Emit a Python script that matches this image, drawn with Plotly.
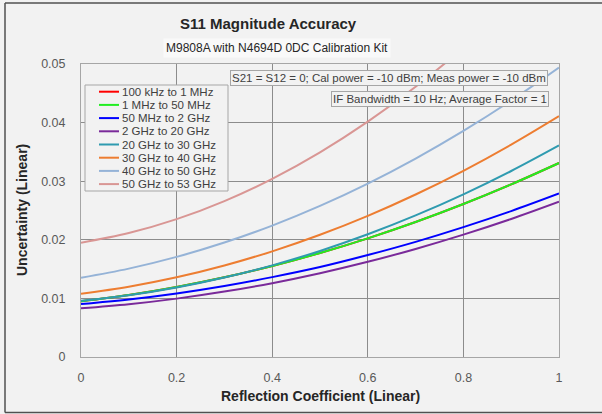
import plotly.graph_objects as go

# ---- data ----
reflection = [0.0, 0.1, 0.2, 0.3, 0.4, 0.5, 0.6, 0.7, 0.8, 0.9, 1.0]

series_names = [
    "100 kHz to 1 MHz",
    "1 MHz to 50 MHz",
    "50 MHz to 2 GHz",
    "2 GHz to 20 GHz",
    "20 GHz to 30 GHz",
    "30 GHz to 40 GHz",
    "40 GHz to 50 GHz",
    "50 GHz to 53 GHz",
]
series_colors = ["#ff0000", "#22ee22", "#0000ff", "#7a2a9a",
                 "#2f9bb0", "#ed7d31", "#95b3d7", "#d99694"]

u_100k_1M = [0.0095, 0.01058, 0.01195, 0.0136, 0.01553, 0.01775, 0.02025, 0.02304, 0.02611, 0.02946, 0.0331]
u_1M_50M = [0.0095, 0.01058, 0.01195, 0.0136, 0.01553, 0.01775, 0.02025, 0.02304, 0.02611, 0.02946, 0.0331]
u_50M_2G = [0.00904, 0.00982, 0.01084, 0.01211, 0.01363, 0.01535, 0.0174, 0.01965, 0.02216, 0.0249, 0.0279]
u_2G_20G = [0.0083, 0.009, 0.00996, 0.01116, 0.0126, 0.0143, 0.01624, 0.01844, 0.02088, 0.02356, 0.0265]
u_20G_30G = [0.0096, 0.01054, 0.01186, 0.01356, 0.01564, 0.0181, 0.02094, 0.02416, 0.02776, 0.03174, 0.0361]
u_30G_40G = [0.0108, 0.0120, 0.0136, 0.01561, 0.01803, 0.02086, 0.02409, 0.02773, 0.03178, 0.03624, 0.0411]
u_40G_50G = [0.01353, 0.01508, 0.01708, 0.01953, 0.02243, 0.02579, 0.0296, 0.03387, 0.03859, 0.04376, 0.04938]
u_50G_53G = [0.0195, 0.02115, 0.02352, 0.02661, 0.03041, 0.03493, 0.04016, 0.04611, 0.05277, 0.06015, 0.06825]

series_values = [u_100k_1M, u_1M_50M, u_50M_2G, u_2G_20G,
                 u_20G_30G, u_30G_40G, u_40G_50G, u_50G_53G]

x_ticks = [0, 0.2, 0.4, 0.6, 0.8, 1]
x_tick_labels = ["0", "0.2", "0.4", "0.6", "0.8", "1"]
y_ticks = [0, 0.01, 0.02, 0.03, 0.04, 0.05]
y_tick_labels = ["0", "0.01", "0.02", "0.03", "0.04", "0.05"]

title_text = "S11 Magnitude Accuracy"
subtitle_text = "M9808A with N4694D 0DC Calibration Kit"
note1 = "S21 = S12 = 0; Cal power = -10 dBm; Meas power = -10 dBm"
note2 = "IF Bandwidth = 10 Hz; Average Factor = 1"

FONT = "Liberation Sans, Arial, sans-serif"
BG = "#f2f2f2"

fig = go.Figure()
for name, vals, col in zip(series_names, series_values, series_colors):
    fig.add_trace(go.Scatter(x=reflection, y=vals, name=name, mode="lines",
                             line=dict(color=col, width=2, shape="spline"),
                             showlegend=False, cliponaxis=True))

# Plot geometry (pixels)
L, R, T, B = 81, 43, 64, 57
W, H = 602, 414
pw, ph = W - L - R, H - T - B

def px(x):
    return (x - L) / pw

def py(y):
    return (H - B - y) / ph

shapes = []
annotations = []

# outer frame: left, top and bottom edges only
frame_line = dict(color="#505050", width=1.5)
for (x0, y0, x1, y1) in [(5, 3, 5, 412.5), (5, 3, 602, 3), (5, 412.5, 602, 412.5)]:
    shapes.append(dict(type="line", xref="paper", yref="paper",
                       x0=px(x0), x1=px(x1), y0=py(y0), y1=py(y1),
                       line=frame_line, layer="below"))

# legend box (manual)
shapes.append(dict(type="rect", xref="paper", yref="paper",
                   x0=px(85), x1=px(228), y0=py(191), y1=py(85),
                   line=dict(color="#a6a6a6", width=1), fillcolor=BG, layer="above"))
row0, step = 91.7, 13.2
for i, (name, col) in enumerate(zip(series_names, series_colors)):
    yy = py(row0 + step * i)
    shapes.append(dict(type="line", xref="paper", yref="paper",
                       x0=px(99), x1=px(119), y0=yy, y1=yy,
                       line=dict(color=col, width=2), layer="above"))
    annotations.append(dict(text=name, xref="paper", yref="paper", x=px(120), y=yy,
                            xanchor="left", yanchor="middle", showarrow=False,
                            font=dict(family=FONT, size=11.5, color="#404040")))

# titles
annotations.append(dict(text="<b>" + title_text + "</b>", xref="paper", yref="paper",
                        x=px(268), y=py(24), xanchor="center", yanchor="middle",
                        showarrow=False, font=dict(family=FONT, size=15, color="#262626")))
annotations.append(dict(text=subtitle_text, xref="paper", yref="paper",
                        x=px(277), y=py(48), xanchor="center", yanchor="middle",
                        showarrow=False, bgcolor="#f9f9f9", borderpad=2,
                        font=dict(family=FONT, size=12, color="#262626")))
# notes
annotations.append(dict(text=note1, xref="paper", yref="paper",
                        x=px(548), y=py(78.5), xanchor="right", yanchor="middle",
                        showarrow=False, bgcolor=BG, bordercolor="#a6a6a6",
                        borderwidth=1, borderpad=1,
                        font=dict(family=FONT, size=11.5, color="#404040")))
annotations.append(dict(text=note2, xref="paper", yref="paper",
                        x=px(549), y=py(99), xanchor="right", yanchor="middle",
                        showarrow=False, bgcolor=BG, bordercolor="#a6a6a6",
                        borderwidth=1, borderpad=1,
                        font=dict(family=FONT, size=11.5, color="#404040")))
# axis titles
annotations.append(dict(text="<b>Reflection Coefficient (Linear)</b>", xref="paper", yref="paper",
                        x=px(320), y=py(396), xanchor="center", yanchor="middle",
                        showarrow=False, font=dict(family=FONT, size=14, color="#262626")))
annotations.append(dict(text="<b>Uncertainty (Linear)</b>", xref="paper", yref="paper",
                        x=px(22), y=py(210), xanchor="center", yanchor="middle",
                        textangle=-90, showarrow=False,
                        font=dict(family=FONT, size=14, color="#262626")))

fig.update_layout(
    width=W, height=H, autosize=False,
    margin=dict(l=L, r=R, t=T, b=B, pad=0, autoexpand=False),
    paper_bgcolor=BG, plot_bgcolor=BG,
    font=dict(family=FONT, size=12, color="#595959"),
    shapes=shapes, annotations=annotations, showlegend=False,
)
fig.update_xaxes(range=[0, 1], tickvals=x_ticks, ticktext=x_tick_labels,
                 showgrid=True, gridcolor="#8c8c8c", gridwidth=1, automargin=False,
                 showline=True, linecolor="#a6a6a6", linewidth=1, mirror=True,
                 zeroline=False, ticks="", ticklabelstandoff=9,
                 tickfont=dict(family=FONT, size=12.5, color="#595959"))
fig.update_yaxes(range=[0, 0.05], tickvals=y_ticks, ticktext=y_tick_labels,
                 showgrid=True, gridcolor="#8c8c8c", gridwidth=1, automargin=False,
                 showline=True, linecolor="#a6a6a6", linewidth=1, mirror=True,
                 zeroline=False, ticks="", ticklabelstandoff=12,
                 tickfont=dict(family=FONT, size=12.5, color="#595959"))

fig.write_html("out.html", config={"displayModeBar": False},
               post_script="document.body.style.margin='0';document.body.style.background='#f2f2f2';document.body.style.overflow='hidden';")
